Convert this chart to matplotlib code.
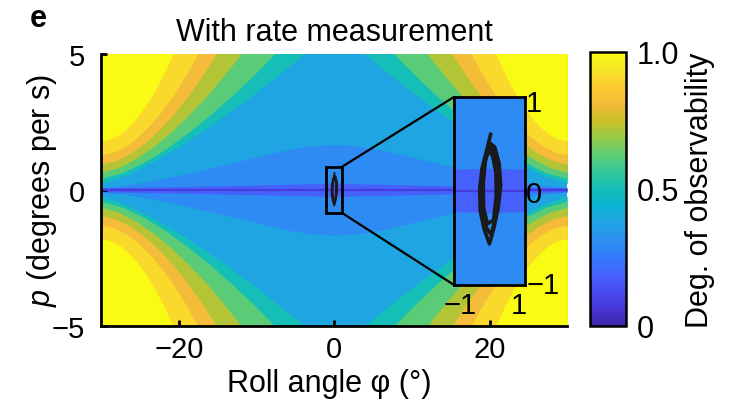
import numpy as np
import matplotlib
matplotlib.use("Agg")
import matplotlib.pyplot as plt
from matplotlib.colors import LinearSegmentedColormap, Normalize
from matplotlib.cm import ScalarMappable
from matplotlib.patches import Rectangle, ConnectionPatch

plt.rcParams['font.family'] = ['Liberation Sans', 'DejaVu Sans']
plt.rcParams['mathtext.fontset'] = 'custom'
plt.rcParams['mathtext.it'] = 'Liberation Sans:italic'
plt.rcParams['mathtext.rm'] = 'Liberation Sans'
plt.rcParams['font.size'] = 21

# ---- data (upper-right quadrant, mirrored to the others) ----
# level lines of the degree of observability: |phi| (deg) and |p| (deg/s)
lvl_values = [0.5, 0.62, 0.72, 0.82, 0.91, 1.0]
lvl_phi = [
    [30, 26.74, 23.48, 20.21, 16.95, 13.69, 10.43, 7.16, 3.9],
    [30, 27.21, 24.43, 21.64, 18.85, 16.06, 13.28, 10.49, 7.7],
    [30, 27.75, 25.5, 23.25, 21.0, 18.75, 16.5, 14.25, 12.0],
    [30, 28.15, 26.3, 24.45, 22.6, 20.75, 18.9, 17.05, 15.2],
    [30, 28.45, 26.9, 25.35, 23.8, 22.25, 20.7, 19.15, 17.6],
    [30, 28.85, 27.7, 26.55, 25.4, 24.25, 23.1, 21.95, 20.8],
]
lvl_p = [
    [0.23, 0.55, 1.02, 1.56, 2.17, 2.82, 3.51, 4.24, 5.0],
    [0.42, 0.64, 1.03, 1.52, 2.10, 2.74, 3.44, 4.19, 5.0],
    [0.65, 0.82, 1.16, 1.60, 2.14, 2.75, 3.43, 4.19, 5.0],
    [0.95, 1.07, 1.33, 1.71, 2.20, 2.77, 3.43, 4.18, 5.0],
    [1.30, 1.39, 1.61, 1.93, 2.36, 2.89, 3.50, 4.21, 5.0],
    [1.80, 1.86, 2.03, 2.30, 2.66, 3.11, 3.65, 4.28, 5.0],
]
base_value = 0.38

# low-observability lens around p = 0
lens_value = 0.3
lens_phi = [0, 3, 6, 9, 12, 15, 18, 21, 24, 27, 30]
lens_p = [1.67, 1.62, 1.48, 1.28, 1.07, 0.87, 0.67, 0.48, 0.31, 0.17, 0.08]

ridge_value = 0.18
ridge_phi = [0, 10, 20, 30]
ridge_p = [0.24, 0.18, 0.12, 0.07]

floor_value = 0.08
floor_phi = [-30, 30]
floor_p = [0, 0]

# measured trajectory (phi in deg, p in deg/s)
traj_phi = [0.04, -0.09, -0.25, -0.33, -0.31, -0.18, 0.00, 0.14, 0.30, 0.38, 0.33, 0.18,
            0.03, -0.19, -0.27, -0.25, -0.11, 0.06, 0.22, 0.30, 0.28, 0.14, 0.02,
            -0.14, -0.21, -0.20, -0.07, 0.14, 0.23, 0.22, 0.11, -0.02]
traj_p = [0.62, 0.45, 0.25, 0.02, -0.22, -0.42, -0.58, -0.42, -0.18, 0.06, 0.30, 0.48,
          0.52, 0.30, 0.05, -0.20, -0.40, -0.48, -0.28, 0.00, 0.25, 0.42, 0.52,
          0.32, 0.08, -0.18, -0.36, -0.32, -0.06, 0.20, 0.38, 0.45]

zoom_phi = [-1.1, 1.0]
zoom_p = [-0.85, 0.85]

x_ticks = [-20, 0, 20]
y_ticks = [-5, 0, 5]
cbar_ticks = [0, 0.5, 1.0]
cbar_labels = ['0', '0.5', '1.0']

# parula-like colormap
parula = LinearSegmentedColormap.from_list('parula', [
    (0.2422, 0.1504, 0.6603), (0.2704, 0.2138, 0.8346), (0.2813, 0.2985, 0.9397),
    (0.2710, 0.3860, 0.9898), (0.2006, 0.4803, 0.9906), (0.1716, 0.5655, 0.9393),
    (0.1288, 0.6408, 0.8910), (0.0433, 0.7039, 0.8242), (0.0770, 0.7468, 0.7224),
    (0.2061, 0.7808, 0.6065), (0.3671, 0.8021, 0.4563), (0.5886, 0.7913, 0.2833),
    (0.7945, 0.7554, 0.1570), (0.9523, 0.7284, 0.2237), (0.9938, 0.7974, 0.1974),
    (0.9601, 0.8963, 0.1507), (0.9769, 0.9839, 0.0805)], N=256)


def mirror(phi, p):
    phi = np.asarray(phi, float)
    p = np.asarray(p, float)
    return np.concatenate([-phi[::-1], phi]), np.concatenate([p[::-1], p])


def draw_field(a, with_levels=True):
    a.set_facecolor(parula(base_value))
    if with_levels:
        for val, ph, pp in zip(lvl_values, lvl_phi, lvl_p):
            ph = np.asarray(ph, float)
            pp = np.asarray(pp, float)
            for sx in (-1, 1):
                for sy in (-1, 1):
                    a.fill_between(sx * ph, sy * pp, sy * 6, color=parula(val), lw=0)
    ph, pp = mirror(lens_phi, lens_p)
    a.fill_between(ph, -pp, pp, color=parula(lens_value), lw=0)
    ph, pp = mirror(ridge_phi, ridge_p)
    a.fill_between(ph, -pp, pp, color=parula(ridge_value), lw=0)
    a.plot(floor_phi, floor_p, color=parula(floor_value), lw=1.6)


fig = plt.figure(figsize=(7.42, 4.06), dpi=100)
ax = fig.add_axes([0.1365, 0.1953, 0.628, 0.6692])
draw_field(ax)
ax.plot(traj_phi, traj_p, color='#1a1a1a', lw=1.3)
ax.add_patch(Rectangle((zoom_phi[0], zoom_p[0]), zoom_phi[1] - zoom_phi[0],
                       zoom_p[1] - zoom_p[0], fill=False, ec='black', lw=2.0, zorder=5))
ax.set_xlim(-30, 30)
ax.set_ylim(-5, 5)
ax.set_xticks(x_ticks)
ax.set_yticks(y_ticks)
for s in ('top', 'right'):
    ax.spines[s].set_visible(False)
for s in ('left', 'bottom'):
    ax.spines[s].set_linewidth(2.0)
ax.tick_params(direction='in', length=4, width=2.0)
ax.tick_params(axis='y', pad=12)
ax.tick_params(axis='x', pad=7)
ax.set_title('With rate measurement', fontsize=22, pad=10)
ax.set_xlabel('Roll angle φ (°)', fontsize=22)
ax.set_ylabel('$p$ (degrees per s)', fontsize=22)
ax.xaxis.set_label_coords(0.49, -0.155)
ax.yaxis.set_label_coords(-0.09, 0.5)

# zoomed inset
axi = ax.inset_axes([0.757, 0.15, 0.152, 0.692])
draw_field(axi, with_levels=False)
axi.plot(traj_phi, traj_p, color='#1a1a1a', lw=2.6, solid_joinstyle='round')
axi.set_xlim(-1.2, 1.2)
axi.set_ylim(-1.03, 1.03)
axi.set_xticks([-1, 1])
axi.set_yticks([-1, 0, 1])
axi.yaxis.tick_right()
axi.tick_params(length=0, labelsize=21)
axi.tick_params(axis='y', pad=1)
axi.tick_params(axis='x', pad=4)
for s in axi.spines.values():
    s.set_linewidth(2.0)
for ya, yb in ((zoom_p[1], 1), (zoom_p[0], 0)):
    cp = ConnectionPatch(xyA=(zoom_phi[1], ya), coordsA=ax.transData,
                         xyB=(0, yb), coordsB=axi.transAxes, color='black', lw=1.6)
    fig.add_artist(cp)

# colorbar
cax = fig.add_axes([0.795, 0.1946, 0.0485, 0.675])
cb = fig.colorbar(ScalarMappable(norm=Normalize(0, 1), cmap=parula), cax=cax, ticks=cbar_ticks)
cb.set_ticklabels(cbar_labels)
cb.outline.set_linewidth(1.8)
cax.tick_params(length=0, pad=8, labelsize=22)
cb.set_label('Deg. of observability', fontsize=22, labelpad=4)

fig.text(0.04, 0.933, 'e', fontsize=22, fontweight='bold', va='baseline')

fig.savefig('out.png', dpi=100)
